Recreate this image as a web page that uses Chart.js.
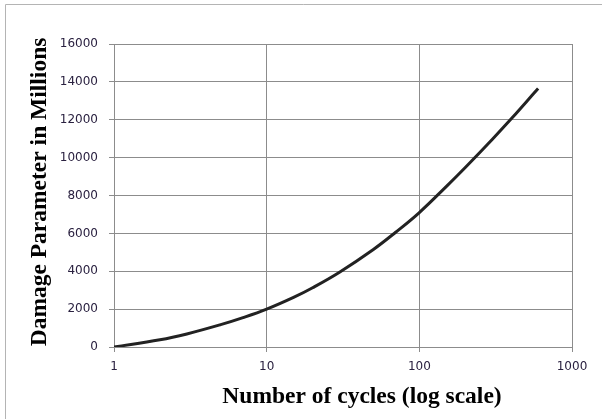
<!DOCTYPE html>
<html>
<head>
<meta charset="utf-8">
<script src="https://cdn.jsdelivr.net/npm/chart.js@4"></script>
<style>
  html, body { margin: 0; padding: 0; background: #fff; }
  #wrap { position: relative; width: 602px; height: 419px; }
</style>
</head>
<body>
<div id="wrap"><canvas id="chart" width="602" height="419"></canvas></div>
<script>
// values
const cycles = [1, 2, 3, 5, 7, 10, 15, 20, 30, 50, 70, 100, 150, 200, 300, 400, 500, 600];
const damage = [0, 380, 690, 1180, 1550, 2000, 2620, 3130, 3950, 5150, 6060, 7100, 8470, 9480, 10960, 12050, 12930, 13650];
const xTicks = [1, 10, 100, 1000];
const xTitle = "Number of cycles (log scale)";
const yTitle = "Damage Parameter in Millions";

const points = cycles.map((c, i) => ({ x: c, y: damage[i] }));

const gridColor = "#8c8c8c";
const labelFont = { family: "DejaVu Sans", size: 12 };

// frame + axis titles
const extras = {
  id: "extras",
  beforeDraw(chart) {
    const ctx = chart.ctx;
    ctx.save();
    ctx.strokeStyle = "#b4b4b4";
    ctx.lineWidth = 1;
    ctx.beginPath();
    ctx.moveTo(5.5, 419);
    ctx.lineTo(5.5, 4.5);
    ctx.lineTo(602, 4.5);
    ctx.stroke();
    ctx.restore();
  },
  afterDraw(chart) {
    const ctx = chart.ctx;
    ctx.save();
    ctx.fillStyle = "#000";
    ctx.font = "bold 23.5px 'Liberation Serif'";
    ctx.textAlign = "center";
    ctx.textBaseline = "alphabetic";
    ctx.fillText(xTitle, 362, 403);
    ctx.translate(46, 192);
    ctx.rotate(-Math.PI / 2);
    ctx.fillText(yTitle, 0, 0);
    ctx.restore();
  }
};

new Chart(document.getElementById("chart"), {
  type: "line",
  data: {
    datasets: [{
      data: points,
      borderColor: "#222",
      borderWidth: 3,
      pointRadius: 0,
      tension: 0.4,
      fill: false
    }]
  },
  options: {
    responsive: false,
    animation: false,
    events: [],
    layout: { padding: { left: 0, right: 30, top: 44, bottom: 0 } },
    plugins: { legend: { display: false }, tooltip: { enabled: false } },
    scales: {
      x: {
        type: "logarithmic",
        min: 1,
        max: 1000,
        afterBuildTicks: (scale) => { scale.ticks = xTicks.map(v => ({ value: v })); },
        afterFit: (scale) => { scale.height = 72; },
        grid: { color: gridColor, tickLength: 5, lineWidth: 1 },
        border: { color: gridColor },
        ticks: {
          color: "#2a2140",
          font: labelFont,
          padding: 8,
          maxRotation: 0,
          callback: (v) => String(v)
        }
      },
      y: {
        min: 0,
        max: 16000,
        afterFit: (scale) => { scale.width = 114; },
        grid: { color: gridColor, tickLength: 5, lineWidth: 1 },
        border: { color: gridColor },
        ticks: {
          stepSize: 2000,
          color: "#2a2140",
          font: labelFont,
          padding: 11,
          callback: (v) => String(v)
        }
      }
    }
  },
  plugins: [extras]
});
</script>
</body>
</html>
